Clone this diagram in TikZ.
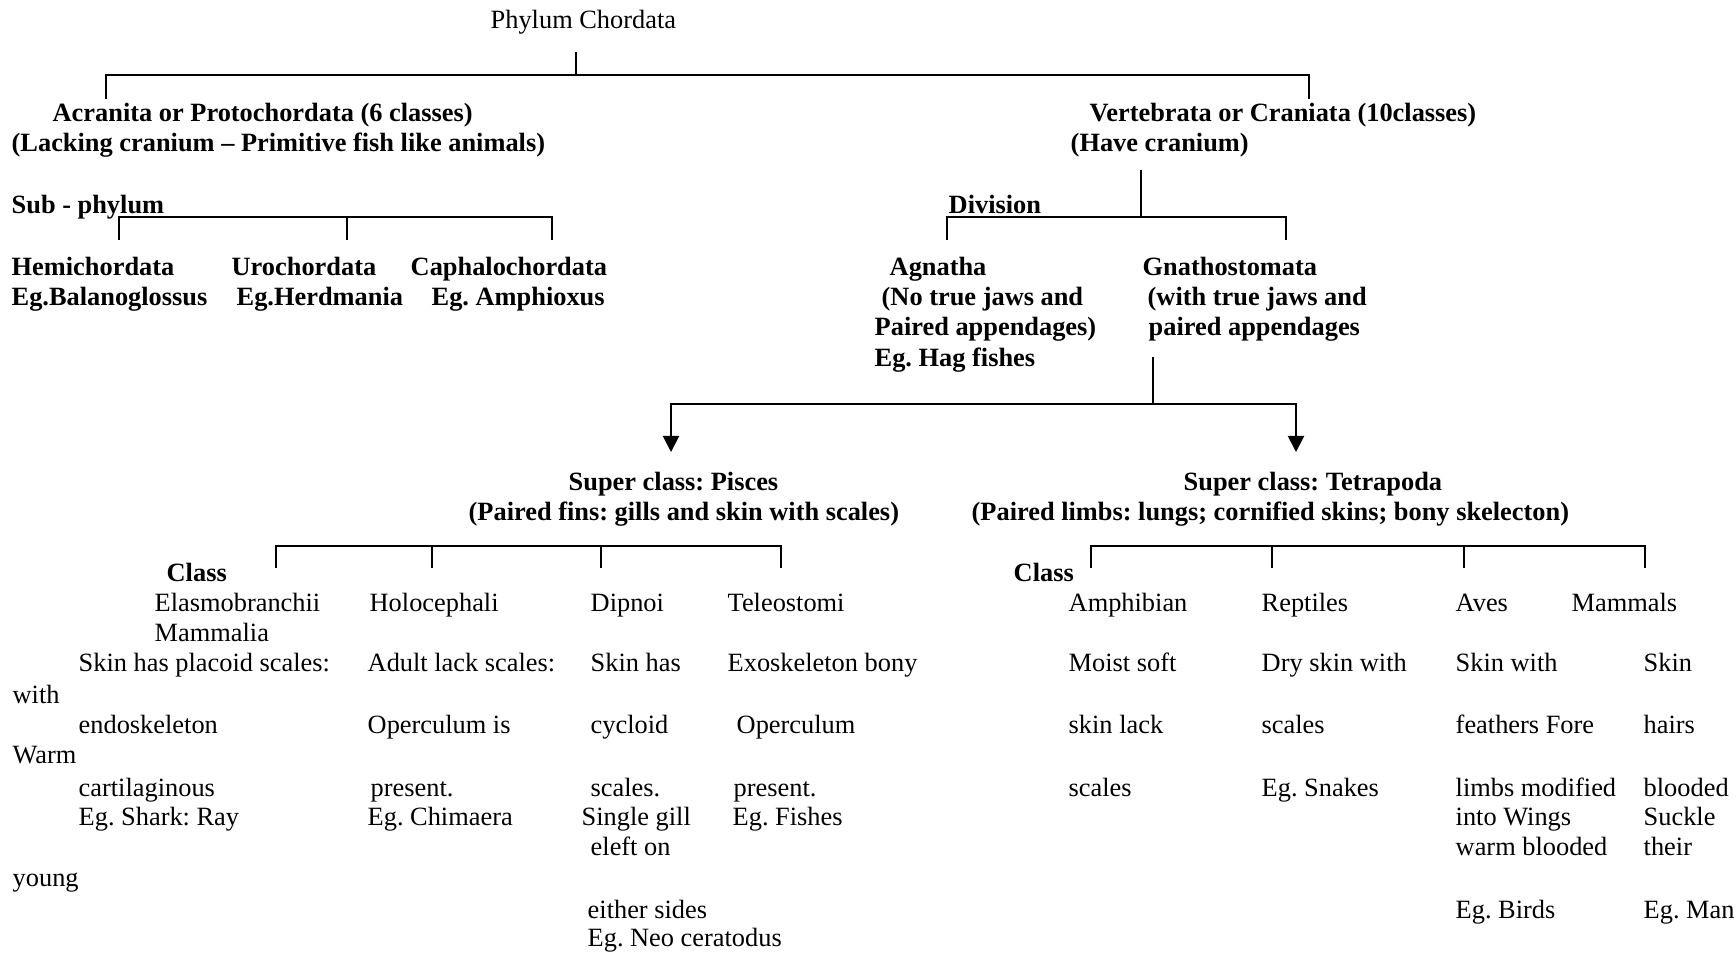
\documentclass[tikz,border=0pt]{standalone}
\usepackage{fontspec}
\setmainfont{Liberation Serif}
\frenchspacing
\usetikzlibrary{arrows.meta}
\tikzset{
	lbl/.style={anchor=base west, inner sep=0pt, font=\fontsize{7.5}{9}\selectfont},
	hd/.style={lbl, font=\fontsize{7.5}{9}\selectfont\bfseries},
	brk/.style={line width=0.45pt},
	arr/.style={line width=0.55pt, -{Triangle[width=4.6pt,length=4.6pt]}}
}

\begin{document}
\begin{tikzpicture}[x=0.01cm, y=-0.01cm]
		%%%%% START %%%%%
		\useasboundingbox (0,0) rectangle (1736,953);
		
		\node[lbl] (phylum) at (490,28) {Phylum Chordata};
		
		\node[hd] (acr) at (52,121) {Acranita or Protochordata (6 classes)};
		\node[hd] (acrnote) at (11,151) {(Lacking cranium – Primitive fish like animals)};
		\node[hd] (vert) at (1089,121) {Vertebrata or Craniata (10classes)};
		\node[hd] (vertnote) at (1070,151) {(Have cranium)};
		
		\coordinate (phyl-s) at (576,52);
		\coordinate (topbar) at (576,75);
		\coordinate (acr-n) at (106,99);
		\coordinate (vert-n) at (1309,99);
		\draw[brk] (phyl-s) -- (topbar);
		\draw[brk] (acr-n) |- (topbar) -| (vert-n);
		
		% sub - phylum
		\node[hd] (subph) at (11,213) {Sub - phylum};
		\node[hd] (hemi) at (11,275) {Hemichordata};
		\node[hd] (uro) at (231,275) {Urochordata};
		\node[hd] (cepha) at (410,275) {Caphalochordata};
		\node[hd] (hemieg) at (11,305) {Eg.Balanoglossus};
		\node[hd] (uroeg) at (236,305) {Eg.Herdmania};
		\node[hd] (cephaeg) at (431,305) {Eg. Amphioxus};
		
		\coordinate (subbar) at (347,217);
		\coordinate (hemi-n) at (119,240);
		\coordinate (uro-n) at (347,240);
		\coordinate (cepha-n) at (552,240);
		\draw[brk] (hemi-n) |- (subbar) -| (cepha-n);
		\draw[brk] (uro-n) -- (subbar);
		
		% division
		\node[hd] (divn) at (948,213) {Division};
		\node[hd] (agn) at (889,275) {Agnatha};
		\node[hd] (agnA) at (881,305) {(No true jaws and};
		\node[hd] (agnB) at (874,335) {Paired appendages)};
		\node[hd] (agnC) at (874,366) {Eg. Hag fishes};
		\node[hd] (gna) at (1142,275) {Gnathostomata};
		\node[hd] (gnaA) at (1147,305) {(with true jaws and};
		\node[hd] (gnaB) at (1148,335) {paired appendages};
		
		\coordinate (vertnote-s) at (1141,170);
		\coordinate (divbar) at (1141,217);
		\coordinate (agn-n) at (947,240);
		\coordinate (gna-n) at (1286,240);
		\draw[brk] (vertnote-s) -- (divbar);
		\draw[brk] (agn-n) |- (divbar) -| (gna-n);
		
		\coordinate (gna-s) at (1153,357);
		\coordinate (gnabar) at (1153,404);
		\coordinate (pisc-n) at (671,452);
		\coordinate (tetra-n) at (1296,452);
		\draw[arr] (gna-s) -- (gnabar) -| (pisc-n);
		\draw[arr] (gnabar) -| (tetra-n);
		
		% super classes
		\node[hd] (pisc) at (568,490) {Super class: Pisces};
		\node[hd] (piscnote) at (468,520) {(Paired fins: gills and skin with scales)};
		\node[hd] (tetra) at (1183,490) {Super class: Tetrapoda};
		\node[hd] (tetranote) at (971,520) {(Paired limbs: lungs; cornified skins; bony skelecton)};
		
		\coordinate (pbar) at (432,546);
		\coordinate (p1) at (276,568);
		\coordinate (p2) at (432,568);
		\coordinate (p3) at (601,568);
		\coordinate (p4) at (781,568);
		\draw[brk] (p1) |- (pbar) -| (p4);
		\draw[brk] (p2) -- (pbar);
		\draw[brk] (p3) -- (p3 |- pbar);
		
		\coordinate (tbar) at (1272,546);
		\coordinate (t1) at (1091,568);
		\coordinate (t2) at (1272,568);
		\coordinate (t3) at (1464,568);
		\coordinate (t4) at (1645,568);
		\draw[brk] (t1) |- (tbar) -| (t4);
		\draw[brk] (t2) -- (tbar);
		\draw[brk] (t3) -- (t3 |- tbar);
		
		\node[hd] (clsP) at (166,581) {Class};
		\node[hd] (clsT) at (1013,581) {Class};
		
		% pisces classes
		\node[lbl] (elas) at (154,611) {Elasmobranchii};
		\node[lbl] (mamm) at (154,641) {Mammalia};
		\node[lbl] (elasA) at (78,671) {Skin has placoid scales:};
		\node[lbl] (wrapA) at (12,703) {with};
		\node[lbl] (elasB) at (78,733) {endoskeleton};
		\node[lbl] (wrapB) at (12,763) {Warm};
		\node[lbl] (elasC) at (78,796) {cartilaginous};
		\node[lbl] (elasD) at (78,825) {Eg. Shark: Ray};
		\node[lbl] (wrapC) at (12,886) {young};
		
		\node[lbl] (holo) at (369,611) {Holocephali};
		\node[lbl] (holoA) at (367,671) {Adult lack scales:};
		\node[lbl] (holoB) at (367,733) {Operculum is};
		\node[lbl] (holoC) at (370,796) {present.};
		\node[lbl] (holoD) at (367,825) {Eg. Chimaera};
		
		\node[lbl] (dip) at (590,611) {Dipnoi};
		\node[lbl] (dipA) at (590,671) {Skin has};
		\node[lbl] (dipB) at (590,733) {cycloid};
		\node[lbl] (dipC) at (590,796) {scales.};
		\node[lbl] (dipD) at (581,825) {Single gill};
		\node[lbl] (dipE) at (590,855) {eleft on};
		\node[lbl] (dipF) at (587,918) {either sides};
		\node[lbl] (dipG) at (587,946) {Eg. Neo ceratodus};
		
		\node[lbl] (tel) at (727,611) {Teleostomi};
		\node[lbl] (telA) at (727,671) {Exoskeleton bony};
		\node[lbl] (telB) at (736,733) {Operculum};
		\node[lbl] (telC) at (733,796) {present.};
		\node[lbl] (telD) at (732,825) {Eg. Fishes};
		
		% tetrapoda classes
		\node[lbl] (amp) at (1068,611) {Amphibian};
		\node[lbl] (ampA) at (1068,671) {Moist soft};
		\node[lbl] (ampB) at (1068,733) {skin lack};
		\node[lbl] (ampC) at (1068,796) {scales};
		
		\node[lbl] (rep) at (1261,611) {Reptiles};
		\node[lbl] (repA) at (1261,671) {Dry skin with};
		\node[lbl] (repB) at (1261,733) {scales};
		\node[lbl] (repC) at (1261,796) {Eg. Snakes};
		
		\node[lbl] (aves) at (1455,611) {Aves};
		\node[lbl] (avesA) at (1455,671) {Skin with};
		\node[lbl] (avesB) at (1455,733) {feathers Fore};
		\node[lbl] (avesC) at (1455,796) {limbs modified};
		\node[lbl] (avesD) at (1455,825) {into Wings};
		\node[lbl] (avesE) at (1455,855) {warm blooded};
		\node[lbl] (avesF) at (1455,918) {Eg. Birds};
		
		\node[lbl] (mam) at (1571,611) {Mammals};
		\node[lbl] (mamA) at (1643,671) {Skin};
		\node[lbl] (mamB) at (1643,733) {hairs};
		\node[lbl] (mamC) at (1643,796) {blooded};
		\node[lbl] (mamD) at (1643,825) {Suckle};
		\node[lbl] (mamE) at (1643,855) {their};
		\node[lbl] (mamF) at (1643,918) {Eg. Man};
		
		%%%%% END %%%%%
	\end{tikzpicture}
\end{document}
